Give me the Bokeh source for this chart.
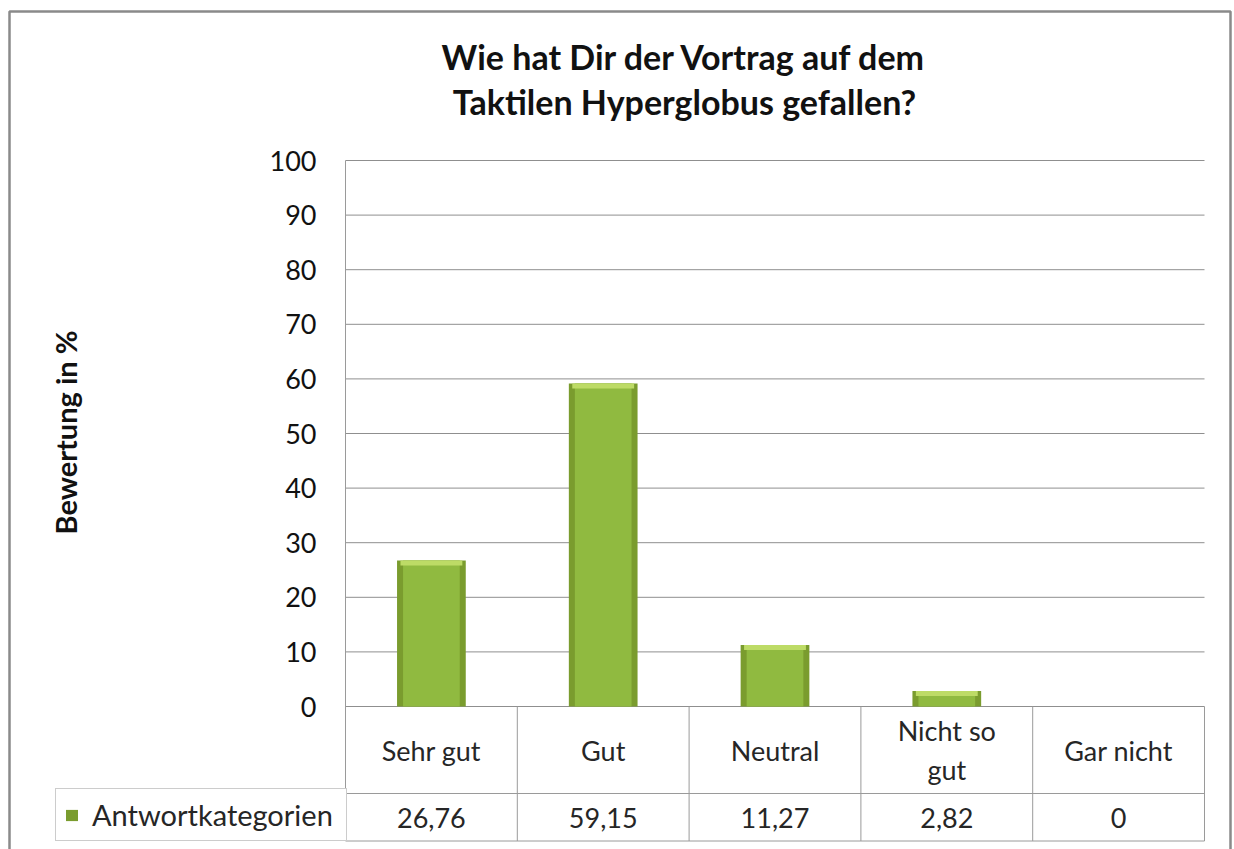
import math
from bokeh.plotting import figure
from bokeh.models import Range1d, ColumnDataSource, Legend, LegendItem
from bokeh.embed import file_html
from bokeh.resources import INLINE
from bokeh.core.properties import value

# ---------------- data ----------------
categories = ["Sehr gut", "Gut", "Neutral", "Nicht so gut", "Gar nicht"]
category_labels = ["Sehr gut", "Gut", "Neutral", "Nicht so\ngut", "Gar nicht"]
values = [26.76, 59.15, 11.27, 2.82, 0]
series_name = "Antwortkategorien"
y_ticks = [0, 10, 20, 30, 40, 50, 60, 70, 80, 90, 100]
title_lines = ["Wie hat Dir der Vortrag auf dem", "Taktilen Hyperglobus gefallen?"]
y_title = "Bewertung in %"

# ---------------- layout (pixels) ----------------
FONT = "Lato"
W, H = 1234, 849
N = len(categories)
X0_PX = 345          # pixel of first category boundary
PX_CAT = 171.8       # pixels per category
Y0_PX = 706          # pixel of value 0
PX_UNIT = 5.46       # pixels per percent
ROW1_PX, ROW2_PX = 793, 841   # bottoms of data-table rows
LEG_L_PX = 55

def px2x(px):
    return (px - X0_PX) / PX_CAT

def py2y(py):
    return (Y0_PX - py) / PX_UNIT

y_row = py2y(ROW1_PX)
y_tab_bottom = py2y(ROW2_PX - 0.5)

def fmt(v):
    return str(int(v)) if float(v).is_integer() else f"{v:.2f}".replace(".", ",")

xs = [i + 0.5 for i in range(N)]
cap = 5 / PX_UNIT
src = ColumnDataSource(dict(
    x=xs, top=values,
    cap_bottom=[max(0, v - cap) for v in values],
    label=category_labels,
    vals=[fmt(v) for v in values],
    y_lab=[(0 + y_row) / 2] * N,
    y_val=[(y_row + py2y(ROW2_PX)) / 2] * N,
))

p = figure(width=W, height=H, output_backend="svg", toolbar_location=None,
           x_range=Range1d(px2x(0), px2x(W)), y_range=Range1d(py2y(H), py2y(0)),
           x_axis_location=None, y_axis_location=None,
           min_border=0, background_fill_color="white", border_fill_color="white",
           outline_line_color=None)
p.grid.grid_line_color = None

# outer chart border
p.quad(left=[px2x(9)], right=[px2x(1230)], top=[py2y(11)], bottom=[py2y(880)],
       fill_color=None, line_color="#8a8a8a", line_width=2.5)

# gridlines and value axis line
p.segment(x0=[0] * len(y_ticks), x1=[N] * len(y_ticks), y0=y_ticks, y1=y_ticks,
          line_color="#8f8f8f", line_width=1)
p.segment(x0=[0], x1=[0], y0=[max(y_ticks)], y1=[y_tab_bottom],
          line_color="#9a9a9a", line_width=1)

# tick labels
p.text(x=[px2x(316)] * len(y_ticks), y=y_ticks, text=[str(t) for t in y_ticks],
       text_align="right", text_baseline="middle", text_font=value(FONT),
       text_font_size="27px", text_color="#111111")

# bars
outer = p.vbar(x="x", top="top", bottom=0, width=0.4, source=src,
               fill_color="#7a9c2e", line_color=None)
inner = p.vbar(x="x", top="top", bottom=0, width=0.33, source=src,
               fill_color="#90ba40", line_color=None)
capr = p.vbar(x="x", top="top", bottom="cap_bottom", width=0.36, source=src,
              fill_color="#bddb66", line_color=None)

# data table lines
bounds = list(range(1, N + 1))
p.segment(x0=bounds, y0=[0] * N, x1=bounds, y1=[y_tab_bottom] * N,
          line_color="#9a9a9a", line_width=1)
p.segment(x0=[0, 0], y0=[y_row, y_tab_bottom], x1=[N, N], y1=[y_row, y_tab_bottom],
          line_color="#9a9a9a", line_width=1)

p.text(x="x", y="y_lab", text="label", source=src, text_align="center",
       text_baseline="middle", text_font=value(FONT), text_font_size="27px",
       text_color="#262626", text_line_height=1.2)
p.text(x="x", y="y_val", text="vals", source=src, text_align="center",
       text_baseline="middle", text_font=value(FONT), text_font_size="27px",
       text_color="#262626")

# legend cell of data table
leg_w = X0_PX - LEG_L_PX
leg_h = ROW2_PX - ROW1_PX
legend = Legend(items=[LegendItem(label=series_name, renderers=[outer])],
                location=(LEG_L_PX, H - ROW2_PX), orientation="vertical",
                padding=8, margin=0, spacing=0,
                glyph_width=15, glyph_height=14, label_standoff=13,
                label_width=leg_w - 16 - 15 - 13, label_height=leg_h - 16,
                border_line_color="#9a9a9a", background_fill_color="white",
                background_fill_alpha=1.0,
                label_text_font=FONT, label_text_font_size="29px",
                label_text_color="#262626")
p.add_layout(legend)

# title
p.text(x=[px2x(684)] * 2, y=[py2y(56), py2y(101)], text=title_lines,
       text_align="center", text_baseline="middle", text_font=value(FONT),
       text_font_size="34px", text_font_style="bold", text_color="#111111")

# value-axis title
p.text(x=[px2x(65)], y=[py2y(432)], text=[y_title], angle=math.pi / 2,
       text_align="center", text_baseline="middle", text_font=value(FONT),
       text_font_size="29px", text_font_style="bold", text_color="#111111")

open("out.html", "w").write(file_html(p, INLINE))
